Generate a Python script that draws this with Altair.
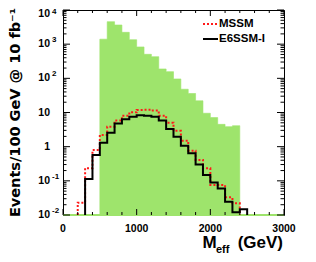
import altair as alt
import pandas as pd

# ---------------- data ----------------
BIN_W = 100
YMIN = 0.01

GREEN_LO = [500, 600, 700, 800, 900, 1000, 1100, 1200, 1300, 1400, 1500,
            1600, 1700, 1800, 1900, 2000, 2100, 2200, 2300]
GREEN_VAL = [1400, 4550, 3640, 2220, 1350, 830, 505, 430, 188, 157, 96,
             48, 36, 22, 9.5, 7.1, 4.5, 3.85, 4.1]

MSSM_LO = [200, 300, 400, 500, 600, 700, 800, 900, 1000, 1100, 1200, 1300,
           1400, 1500, 1600, 1700, 1800, 1900, 2000, 2100, 2200, 2300]
MSSM_VAL = [0.023, 0.233, 0.80, 2.2, 3.85, 5.8, 8.1, 10.1, 11.9, 12.0, 11.4,
            8.1, 5.0, 2.9, 1.5, 0.76, 0.41, 0.233, 0.076, 0.075, 0.033, 0.022]

E6_LO = [300, 400, 500, 600, 700, 800, 900, 1000, 1100, 1200, 1300, 1400,
         1500, 1600, 1700, 1800, 1900, 2000, 2100, 2200, 2300, 2400]
E6_VAL = [0.113, 0.57, 1.31, 2.57, 4.8, 6.3, 7.5, 8.3, 8.1, 7.5, 5.8, 3.3,
          1.96, 1.07, 0.64, 0.30, 0.148, 0.089, 0.060, 0.0245, 0.012, 0.0147]

X_LABELS = [0, 1000, 2000, 3000]
X_MINOR = [v for v in range(200, 3000, 200) if v % 1000 != 0]
Y_MAJOR = [0.01, 0.1, 1, 10, 100, 1000]
Y_BASE = ["10", "10", "1", "10", "10", "10"]
Y_EXP = ["-2", "-1", "", "", "2", "3"]
Y_TOP = [10000]
Y_TOP_BASE = ["10"]
Y_TOP_EXP = ["4"]
Y_MINOR = [m * d for d in [0.01, 0.1, 1, 10, 100, 1000] for m in range(2, 10)]

LEGEND = ["MSSM", "E6SSM-I"]
Y_TITLE = "Events/100 GeV @ 10 fb\u207b\u00b9"

# ---------------- geometry / style ----------------
W, H = 221, 205
FONT = "Liberation Sans"
GREEN = "#9ee46c"
RED = "#ff1a1a"

xs = alt.Scale(domain=[0, 3000], nice=False, zero=False)
ys = alt.Scale(type="log", domain=[YMIN, 10000], nice=False)


def steps(lo, val):
    pts = [(lo[0], YMIN)] + list(zip(lo, val)) + [(lo[-1] + BIN_W, val[-1]), (lo[-1] + BIN_W, YMIN)]
    return pd.DataFrame({"x": [p[0] for p in pts], "y": [p[1] for p in pts], "o": list(range(len(pts)))})


# filled green histogram as one step-shaped area
green_area_df = pd.DataFrame({"x": GREEN_LO + [GREEN_LO[-1] + BIN_W],
                              "y": GREEN_VAL + [GREEN_VAL[-1]],
                              "b": [YMIN] * (len(GREEN_LO) + 1)})
green_area = alt.Chart(green_area_df).mark_area(
    interpolate="step-after", color=GREEN, stroke=GREEN, strokeWidth=0.6).encode(
    x=alt.X("x:Q", scale=xs, axis=None),
    y=alt.Y("y:Q", scale=ys, axis=None, stack=None), y2="b:Q")

green_base = alt.Chart(pd.DataFrame({"a": [0], "b": [3000], "y": [YMIN]})).mark_rule(
    color=GREEN, strokeWidth=2).encode(
    x=alt.X("a:Q", scale=xs, axis=None), x2="b:Q", y=alt.Y("y:Q", scale=ys, axis=None))

mssm = alt.Chart(steps(MSSM_LO, MSSM_VAL)).mark_line(
    interpolate="step-after", color=RED, strokeWidth=2, strokeDash=[2, 2]).encode(
    x=alt.X("x:Q", scale=xs, axis=None), y=alt.Y("y:Q", scale=ys, axis=None), order="o:Q")

e6 = alt.Chart(steps(E6_LO, E6_VAL)).mark_line(
    interpolate="step-after", color="black", strokeWidth=2).encode(
    x=alt.X("x:Q", scale=xs, axis=None), y=alt.Y("y:Q", scale=ys, axis=None), order="o:Q")

# ticks (inside the frame, on all four sides)
xmaj = pd.DataFrame({"t": X_LABELS})
xmin = pd.DataFrame({"t": X_MINOR})
ymaj = pd.DataFrame({"t": Y_MAJOR + Y_TOP})
ymin = pd.DataFrame({"t": Y_MINOR})


def xticks(df, ln):
    b = alt.Chart(df).mark_rule(color="black", strokeWidth=1).encode(
        x=alt.X("t:Q", scale=xs, axis=None), y=alt.value(H), y2=alt.value(H - ln))
    t = alt.Chart(df).mark_rule(color="black", strokeWidth=1).encode(
        x=alt.X("t:Q", scale=xs, axis=None), y=alt.value(0), y2=alt.value(ln))
    return [b, t]


def yticks(df, ln):
    l = alt.Chart(df).mark_rule(color="black", strokeWidth=1).encode(
        y=alt.Y("t:Q", scale=ys, axis=None), x=alt.value(0), x2=alt.value(ln))
    r = alt.Chart(df).mark_rule(color="black", strokeWidth=1).encode(
        y=alt.Y("t:Q", scale=ys, axis=None), x=alt.value(W), x2=alt.value(W - ln))
    return [l, r]


ticks = xticks(xmaj, 6) + xticks(xmin, 3) + yticks(ymaj, 7) + yticks(ymin, 3.5)

# tick labels
xlab = alt.Chart(xmaj).mark_text(font=FONT, fontWeight="bold", fontSize=10.5,
                                 baseline="middle", align="center").encode(
    x=alt.X("t:Q", scale=xs, axis=None), y=alt.value(H + 13.7), text="t:N")


def ylabels(vals, bases, exps, shift, eshift):
    df = pd.DataFrame({"t": vals, "base": bases, "exp": exps})
    base = alt.Chart(df).mark_text(font=FONT, fontWeight="bold", fontSize=10.5,
                                   baseline="middle", align="right", dy=shift).encode(
        y=alt.Y("t:Q", scale=ys, axis=None), x=alt.value(-13), text="base:N")
    ex = alt.Chart(df).mark_text(font=FONT, fontWeight="bold", fontSize=8,
                                 baseline="middle", align="left", dy=eshift).encode(
        y=alt.Y("t:Q", scale=ys, axis=None), x=alt.value(-11), text="exp:N")
    return [base, ex]


ylabs = ylabels(Y_MAJOR, Y_BASE, Y_EXP, 0, -4) + ylabels(Y_TOP, Y_TOP_BASE, Y_TOP_EXP, 4, 2)

# axis titles
ytitle = alt.Chart(pd.DataFrame({"s": [Y_TITLE]})).mark_text(
    font="DejaVu Sans", fontWeight="bold", fontSize=14.5, angle=270,
    align="center", baseline="alphabetic").encode(
    x=alt.value(-43.5), y=alt.value(H / 2), text="s:N")

xt_m = alt.Chart(pd.DataFrame({"s": ["M"]})).mark_text(
    font=FONT, fontWeight="bold", fontSize=17, align="left", baseline="alphabetic").encode(
    x=alt.value(139.5), y=alt.value(238), text="s:N")
xt_eff = alt.Chart(pd.DataFrame({"s": ["eff"]})).mark_text(
    font=FONT, fontWeight="bold", fontSize=11, align="left", baseline="alphabetic").encode(
    x=alt.value(153), y=alt.value(243), text="s:N")
xt_gev = alt.Chart(pd.DataFrame({"s": ["(GeV)"]})).mark_text(
    font=FONT, fontWeight="bold", fontSize=17, align="right", baseline="alphabetic").encode(
    x=alt.value(220), y=alt.value(238), text="s:N")

# legend
leg_red = alt.Chart(pd.DataFrame({"s": [LEGEND[0]]})).mark_rule(
    color=RED, strokeWidth=2, strokeDash=[2, 2]).encode(
    x=alt.value(140), x2=alt.value(155), y=alt.value(14))
leg_blk = alt.Chart(pd.DataFrame({"s": [LEGEND[1]]})).mark_rule(
    color="black", strokeWidth=2).encode(
    x=alt.value(140), x2=alt.value(155), y=alt.value(29))
leg_t1 = alt.Chart(pd.DataFrame({"s": [LEGEND[0]]})).mark_text(
    font=FONT, fontWeight="bold", fontSize=11.5, align="left", baseline="middle").encode(
    x=alt.value(156), y=alt.value(14), text="s:N")
leg_t2 = alt.Chart(pd.DataFrame({"s": [LEGEND[1]]})).mark_text(
    font=FONT, fontWeight="bold", fontSize=11.5, align="left", baseline="middle").encode(
    x=alt.value(156), y=alt.value(29), text="s:N")

chart = alt.layer(
    green_area, green_base, mssm, e6, *ticks, xlab, *ylabs, ytitle,
    xt_m, xt_eff, xt_gev, leg_red, leg_blk, leg_t1, leg_t2
).properties(
    width=W, height=H,
    autosize=alt.AutoSizeParams(type="none"),
    padding={"left": 55, "top": 2, "right": 24, "bottom": 39},
    background="white",
).configure_view(stroke="black", strokeWidth=1)

chart.save("out.html", embed_options={"renderer": "svg", "actions": False})
